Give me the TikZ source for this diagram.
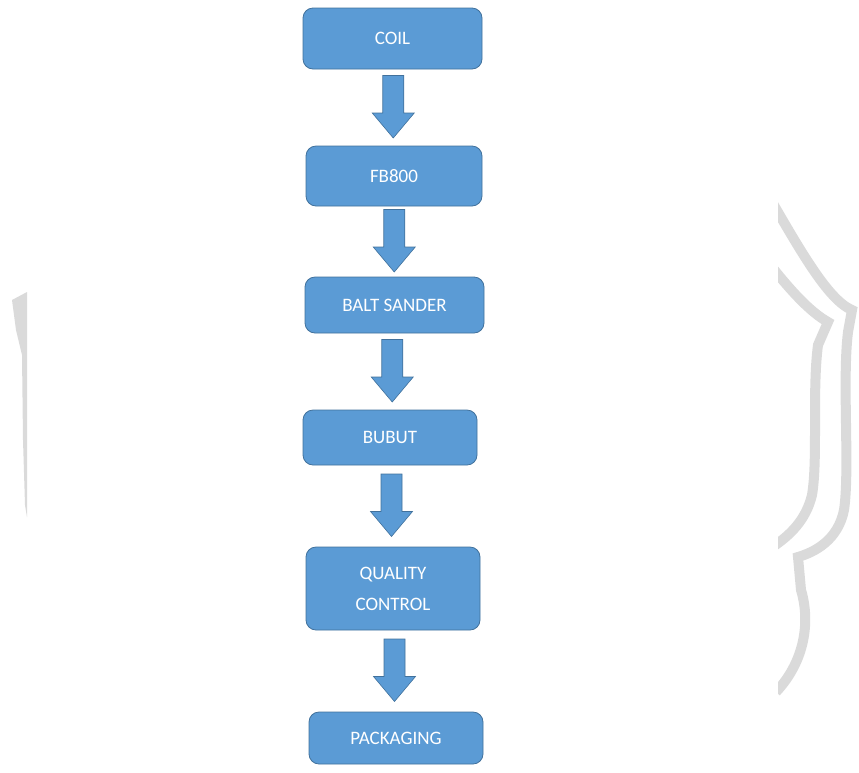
\documentclass[tikz,border=0pt]{standalone}
\usepackage{fontspec}
\setmainfont{Carlito}
\usetikzlibrary{calc}

\definecolor{boxblue}{HTML}{5B9BD5}
\definecolor{boxedge}{HTML}{41719C}
\definecolor{markgray}{HTML}{DADADA}

\begin{document}
\begin{tikzpicture}[x=1pt, y=-1pt,
    stage/.style={draw=boxedge, line width=0.8pt, fill=boxblue, rectangle, rounded corners=10pt,
        text=white, align=center, font=\fontsize{19}{31}\selectfont, inner sep=0pt},
    flowarrow/.style={draw=boxedge, line width=0.6pt, fill=boxblue, line join=miter},
    watermark/.style={draw=markgray, line width=10pt}]
    \useasboundingbox (0,0) rectangle (859,772);

    % faint watermark at the sides
    \begin{scope}
        \clip (778,0) rectangle (859,772);
        \draw[watermark] (768,195) .. controls (800,250) and (828,300) .. (852,310)
            -- (848,332) .. controls (842,380) and (850,470) .. (844,510)
            .. controls (838,540) and (815,552) .. (798,557)
            -- (801,590) .. controls (810,620) and (806,660) .. (776,692);
        \draw[watermark] (768,262) .. controls (790,290) and (810,312) .. (828,322)
            -- (818,345) .. controls (812,390) and (818,460) .. (812,495)
            .. controls (806,520) and (790,535) .. (774,546);
    \end{scope}
    \fill[markgray] (27,292) -- (12,300) -- (16,330) -- (22,355) -- (23,440) -- (25,505) -- (27,517) -- cycle;

    \node[stage, minimum width=179pt, minimum height=61pt] (coil) at (392.5,38.5) {COIL};
    \node[stage, minimum width=176pt, minimum height=60pt] (fb) at (394,176) {FB800};
    \node[stage, minimum width=179pt, minimum height=56pt] (sander) at (394.5,305) {BALT SANDER};
    \node[stage, minimum width=174pt, minimum height=55pt] (bubut) at (390,437.5) {BUBUT};
    \node[stage, minimum width=174pt, minimum height=83pt] (qc) at (393,588.5) {QUALITY\\CONTROL};
    \node[stage, minimum width=174pt, minimum height=52pt] (pack) at (396,738) {PACKAGING};

    \foreach \a/\b in {coil/fb, fb/sander, sander/bubut, bubut/qc, qc/pack} {
        \coordinate (m) at ($(\a.south)!0.5!(\b.north)$);
        \draw[flowarrow] ($(m)+(-10.5,-32)$) -- ($(m)+(10.5,-32)$) -- ($(m)+(10.5,5.5)$)
            -- ($(m)+(21,5.5)$) -- ($(m)+(0,30.5)$) -- ($(m)+(-21,5.5)$)
            -- ($(m)+(-10.5,5.5)$) -- cycle;
    }
\end{tikzpicture}
\end{document}
